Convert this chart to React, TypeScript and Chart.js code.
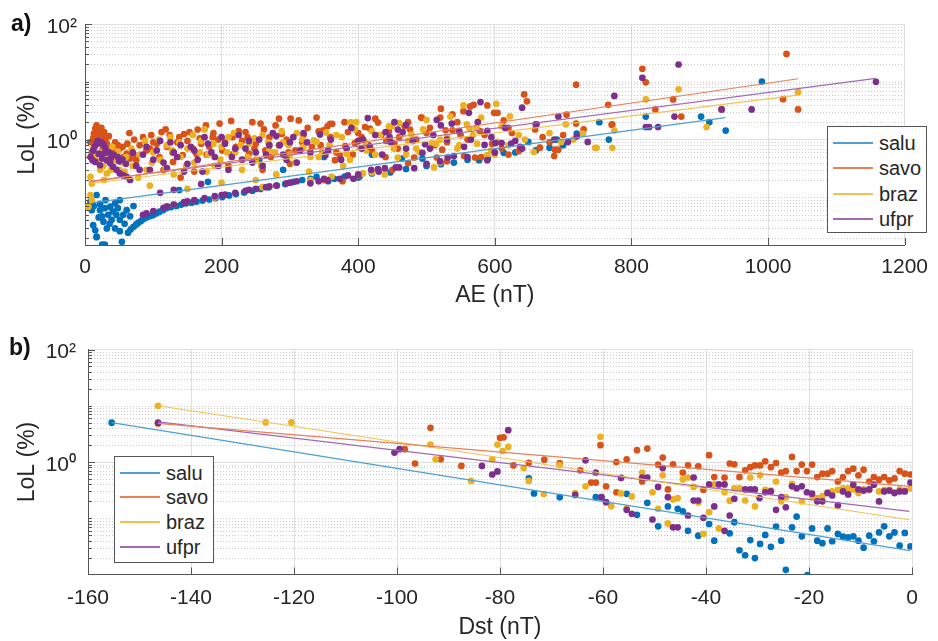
import React, { useEffect, useRef } from 'react';
import { Chart, registerables } from 'chart.js';
Chart.register(...registerables);

const FONT = "'Liberation Sans', Arial, Helvetica, sans-serif";
const seriesNames = ['salu', 'savo', 'braz', 'ufpr'];
const dotColors = ['#0072BD', '#D95319', '#EDB120', '#7E2F8E'];
const lineColors = ['#4d9fd6', '#e8805a', '#f1c252', '#a468b4'];

const aeTickValues = [0, 200, 400, 600, 800, 1000, 1200];
const dstTickValues = [-160, -140, -120, -100, -80, -60, -40, -20, 0];
const lolTickValues = [1, 100];
const lolTickLabels = ['10⁰', '10²'];

// ---------- panel a) : AE (nT) vs LoL (%) ----------
const saluAE: [number, number][] = [
  [12, 0.033], [15, 0.027], [17, 0.021], [13, 0.071], [22, 0.06], [29, 0.065], [37, 0.069], [41, 0.057], [46, 0.05], [34, 0.05],
  [25, 0.047], [39, 0.041], [51, 0.041], [44, 0.029], [32, 0.029], [51, 0.026], [25, 0.0152], [29, 0.0152], [54, 0.017], [56, 0.05],
  [61, 0.06], [66, 0.047], [71, 0.071], [44, 0.079], [51, 0.09], [17, 0.11], [22, 0.077], [17, 0.0205], [36, 0.035], [27, 0.038],
  [20, 0.045], [8, 0.085], [10, 0.06], [30, 0.09], [48, 0.065], [58, 0.035],
  [63, 0.0245], [67, 0.028], [71, 0.031], [75, 0.034], [78, 0.0365], [82, 0.039], [85, 0.042], [88, 0.044], [92, 0.046], [96, 0.048],
  [100, 0.0495], [105, 0.053], [109, 0.0565], [114, 0.06], [119, 0.065], [126, 0.068], [134, 0.071], [141, 0.075], [148, 0.079], [156, 0.081],
  [163, 0.084], [172, 0.088], [182, 0.092], [191, 0.097], [201, 0.102], [211, 0.108], [221, 0.114], [233, 0.122], [245, 0.13], [257, 0.14],
  [269, 0.149], [281, 0.16], [293, 0.17], [305, 0.185], [318, 0.2], [330, 0.21], [339, 0.226], [356, 0.19], [365, 0.21], [380, 0.23],
  [400, 0.22], [402, 0.23], [420, 0.26], [447, 0.27], [464, 0.47], [494, 0.47], [521, 0.375], [470, 0.31], [500, 0.35], [540, 0.4],
  [560, 0.45], [577, 0.44], [590, 0.48], [613, 0.59], [630, 0.6], [649, 0.91], [660, 0.65], [680, 0.72], [691, 1.0], [700, 0.8],
  [720, 1.27], [753, 2.0], [767, 1.0], [821, 2.5], [902, 2.5], [914, 2.0], [938, 1.43], [991, 10.1], [138, 0.134], [180, 0.186],
  [255, 0.44], [290, 0.3], [350, 0.5], [420, 0.55],
];
const savoAE: [number, number][] = [
  [17, 1.76], [20, 1.45], [13, 1.27], [22, 1.27], [27, 1.1], [17, 0.97], [32, 0.85], [39, 0.75], [41, 0.65], [46, 0.57],
  [51, 0.7], [56, 0.5], [61, 0.57], [66, 0.47], [71, 0.54], [75, 0.44], [37, 0.47], [34, 0.57], [15, 1.55], [24, 1.6],
  [12, 1.05], [28, 1.35], [8, 0.9], [19, 1.2], [30, 1.0], [44, 0.9], [35, 1.15], [48, 0.8], [55, 0.75], [62, 0.85],
  [10, 0.6], [26, 0.7],
  [97, 1.19], [112, 1.35], [124, 1.19], [138, 1.1], [153, 1.35], [165, 1.49], [177, 1.76], [197, 1.89], [214, 2.1], [187, 1.1],
  [245, 2.0], [257, 1.89], [279, 1.76], [301, 2.3], [313, 2.15], [284, 2.3], [235, 1.35], [216, 1.1],
  [90, 0.65], [109, 0.5], [129, 0.41], [143, 0.54], [163, 0.57], [182, 0.75], [201, 0.65], [221, 0.75], [240, 0.57], [264, 0.65],
  [284, 0.8], [308, 0.65], [332, 0.75], [80, 0.8], [100, 0.9], [120, 0.75], [150, 0.95], [170, 0.85], [195, 1.0], [230, 0.95],
  [250, 0.85], [270, 1.1], [295, 1.0], [320, 1.2], [115, 0.3], [160, 0.28], [210, 0.35], [260, 0.3], [300, 0.38], [140, 0.22],
  [65, 1.3], [72, 1.0], [85, 1.1], [95, 0.7], [105, 0.85], [118, 1.5], [128, 0.6], [135, 0.9], [145, 1.25], [158, 0.7],
  [168, 1.05], [178, 0.55], [188, 1.3], [205, 0.9], [215, 0.55], [225, 1.4], [238, 1.1], [248, 0.7], [262, 1.5], [272, 0.5],
  [288, 1.25], [298, 0.6], [318, 0.9], [326, 1.6],
  [339, 2.4], [359, 1.88], [362, 1.88], [380, 2.0], [410, 1.65], [417, 1.55], [429, 1.97], [473, 2.0], [493, 2.4], [476, 1.49],
  [441, 0.95], [453, 0.85], [434, 1.2], [395, 0.87], [381, 0.77], [366, 0.44], [373, 0.54], [342, 1.39], [349, 1.45], [359, 1.1],
  [440, 0.5], [482, 0.49], [523, 0.67], [515, 0.49], [473, 0.39], [377, 0.19], [555, 0.52], [571, 0.49], [596, 0.85], [578, 1.41],
  [528, 1.45], [538, 1.45], [550, 1.19], [520, 2.4], [492, 2.4], [538, 2.73], [554, 3.1], [599, 2.9], [604, 2.9], [613, 2.15],
  [521, 3.42], [564, 3.75], [569, 4.0], [589, 3.9], [643, 6.04], [647, 4.6], [635, 0.63], [666, 0.73], [659, 1.5], [670, 1.1],
  [400, 1.3], [460, 1.1], [500, 1.3], [620, 1.6], [420, 0.65],
  [345, 0.8], [355, 1.7], [368, 0.6], [385, 1.35], [392, 0.55], [405, 1.1], [415, 0.8], [425, 2.3], [445, 1.4], [458, 0.7],
  [468, 1.7], [485, 1.0], [505, 1.6], [512, 0.8], [530, 0.9], [545, 2.0], [560, 1.0], [585, 1.2], [610, 0.7], [625, 1.3],
  [350, 0.2], [400, 0.24], [450, 0.3], [530, 0.42], [580, 0.5], [620, 0.55],
  [719, 8.9], [1027, 30.4], [816, 16.8], [821, 9.8], [766, 4.0], [861, 4.95], [835, 3.3], [873, 2.5], [932, 3.33], [1022, 5.0],
  [705, 2.7], [719, 1.89], [772, 1.84], [771, 1.81], [666, 0.72], [688, 0.67], [693, 0.67], [687, 0.52], [1044, 3.33], [730, 1.5],
  [700, 1.2], [680, 0.9],
];
const brazAE: [number, number][] = [
  [8, 0.227], [10, 0.174], [8, 0.11], [10, 0.09], [5, 0.069], [22, 0.3], [27, 0.35], [32, 0.26], [15, 0.5], [25, 0.6],
  [35, 0.55], [45, 0.45], [12, 0.7], [40, 0.75], [55, 0.4], [60, 0.5], [50, 0.3], [20, 0.85],
  [70, 0.35], [80, 0.55], [90, 0.3], [100, 0.6], [110, 0.45], [120, 0.8], [130, 0.25], [140, 0.5], [150, 0.7], [160, 0.4],
  [170, 0.95], [180, 0.55], [190, 0.35], [200, 0.75], [210, 1.1], [220, 0.6], [230, 0.3], [240, 0.85], [250, 0.45], [260, 1.2],
  [270, 0.65], [280, 0.25], [290, 0.9], [300, 0.55], [310, 1.3], [320, 0.75], [330, 0.5], [95, 0.16], [150, 0.14], [200, 0.18],
  [250, 0.2], [175, 1.5], [125, 1.1],
  [18, 0.42], [28, 0.2], [38, 0.3], [48, 0.62], [58, 0.28], [68, 0.7], [78, 0.22], [88, 0.95], [98, 0.4], [108, 1.0],
  [118, 0.32], [128, 0.65], [138, 0.9], [148, 0.35], [158, 1.2], [168, 0.6], [178, 0.28], [188, 0.85], [198, 0.45], [208, 0.6],
  [218, 1.3], [228, 0.8], [238, 0.5], [248, 1.05], [258, 0.35], [268, 0.9], [278, 0.6], [288, 1.4], [298, 0.8], [308, 0.4],
  [318, 1.0], [328, 0.28],
  [335, 0.97], [339, 0.91], [347, 0.61], [353, 1.32], [361, 0.23], [376, 1.1], [383, 0.57], [388, 0.45], [389, 2.0], [397, 2.0],
  [402, 0.72], [407, 0.26], [412, 0.65], [439, 0.25], [445, 1.7], [449, 1.7], [458, 0.49], [460, 1.93], [473, 0.95], [477, 0.95],
  [478, 1.22], [485, 0.7], [508, 0.87], [511, 0.33], [514, 0.85], [554, 3.9], [559, 1.84], [563, 1.55], [573, 1.61], [574, 0.85],
  [589, 0.54], [602, 4.17], [604, 0.91], [622, 2.52], [644, 1.0], [657, 0.61], [530, 1.1], [545, 0.7], [420, 1.4], [470, 0.55],
  [500, 2.2], [620, 0.8],
  [342, 0.5], [358, 0.8], [368, 1.2], [378, 0.35], [395, 1.5], [410, 0.9], [425, 0.55], [432, 1.2], [452, 0.7], [465, 1.3],
  [490, 0.6], [495, 1.5], [520, 1.0], [535, 2.5], [548, 0.8], [568, 1.2], [580, 2.4], [595, 0.65], [610, 1.7], [635, 1.2],
  [130, 0.075], [190, 0.1], [260, 0.15], [330, 0.2], [420, 0.27], [520, 0.4], [600, 0.55],
  [704, 1.84], [697, 0.91], [715, 1.0], [729, 1.27], [747, 0.72], [749, 0.72], [772, 0.72], [775, 1.43], [821, 4.95], [869, 7.4],
  [910, 1.65], [1044, 6.6], [680, 1.3],
];
const ufprAE: [number, number][] = [
  [17, 0.85], [22, 0.87], [27, 0.83], [12, 0.65], [20, 0.57], [25, 0.47], [32, 0.44], [37, 0.39], [41, 0.34], [46, 0.3],
  [51, 0.26], [56, 0.24], [61, 0.227], [66, 0.2], [15, 0.41], [11, 0.44], [22, 0.36], [14, 0.75], [19, 0.95], [24, 0.9],
  [30, 0.7], [35, 0.6], [42, 0.55], [48, 0.5], [55, 0.45], [60, 0.38], [8, 0.5], [28, 0.58], [38, 0.48], [50, 0.42],
  [75, 0.35], [85, 0.55], [95, 0.3], [105, 0.65], [115, 0.4], [125, 0.9], [135, 0.5], [145, 0.28], [155, 0.75], [165, 0.45],
  [175, 1.1], [185, 0.6], [195, 0.35], [205, 0.85], [215, 0.5], [225, 1.2], [235, 0.7], [245, 0.4], [255, 1.0], [265, 0.55],
  [275, 1.3], [285, 0.8], [295, 0.45], [305, 1.1], [315, 0.65], [325, 0.9], [110, 0.12], [130, 0.135], [170, 0.17],
  [70, 0.6], [80, 0.3], [90, 0.75], [100, 0.45], [110, 0.95], [120, 0.32], [130, 0.6], [140, 0.8], [150, 0.38], [160, 0.65],
  [172, 0.28], [180, 0.85], [190, 0.5], [200, 1.1], [210, 0.3], [220, 0.7], [230, 0.45], [240, 0.95], [250, 0.6], [260, 0.35],
  [270, 0.8], [280, 1.15], [290, 0.55], [300, 0.9], [310, 0.4], [320, 1.3], [330, 0.6],
  [85, 0.05], [100, 0.058], [115, 0.066], [130, 0.075], [145, 0.083], [160, 0.09], [175, 0.097], [190, 0.105], [205, 0.112], [220, 0.12],
  [235, 0.13], [250, 0.14], [265, 0.15], [280, 0.16], [295, 0.175], [310, 0.19], [330, 0.175], [342, 0.19], [355, 0.2], [373, 0.21],
  [385, 0.24], [393, 0.21], [419, 0.3], [429, 0.31], [439, 0.32], [455, 0.33], [482, 0.32], [531, 0.49], [540, 0.52], [589, 0.44],
  [601, 0.87], [610, 0.87], [624, 0.85], [637, 0.75], [585, 0.81], [565, 1.0],
  [90, 0.053], [120, 0.07], [150, 0.085], [200, 0.11], [240, 0.135], [270, 0.155], [300, 0.18], [350, 0.21], [400, 0.25], [430, 0.28],
  [460, 0.33], [500, 0.38], [520, 0.42], [560, 0.5], [600, 0.6], [640, 0.7],
  [344, 1.22], [352, 0.54], [356, 0.65], [383, 0.7], [400, 0.95], [407, 1.0], [414, 2.36], [417, 0.75], [440, 1.35], [446, 1.1],
  [453, 2.0], [458, 1.49], [465, 1.35], [494, 0.59], [498, 0.83], [521, 1.76], [537, 1.89], [562, 2.9], [579, 4.45], [589, 1.41],
  [640, 3.56], [660, 1.84], [687, 1.0], [661, 1.84], [693, 2.5], [707, 0.91], [720, 1.14], [736, 0.91], [775, 5.7], [470, 0.7],
  [510, 1.2],
  [360, 1.0], [375, 0.45], [390, 1.6], [405, 0.7], [425, 1.2], [435, 0.55], [448, 0.9], [470, 1.8], [480, 0.95], [505, 0.7],
  [515, 2.2], [530, 1.0], [548, 1.4], [555, 0.75], [575, 2.0], [595, 1.1], [615, 1.6], [630, 0.95],
  [816, 11.7], [869, 19.9], [863, 2.5], [821, 1.65], [826, 1.65], [839, 1.65], [932, 3.33], [976, 3.33], [1158, 10],
];
const saluAEFit: [number, number][] = [[12, 0.081], [937.5, 2.39]];
const savoAEFit: [number, number][] = [[8, 0.186], [1044, 11.3]];
const brazAEFit: [number, number][] = [[8, 0.174], [1043, 5.87]];
const ufprAEFit: [number, number][] = [[8, 0.19], [1158, 11.5]];

// ---------- panel b) : Dst (nT) vs LoL (%) ----------
const saluDst: [number, number][] = [
  [-155.4, 5.0], [-74.4, 0.51], [-73.4, 0.276], [-68.4, 0.237], [-61.4, 0.237], [-60.3, 0.237], [-55.4, 0.272], [-53.4, 0.115],
  [-51.4, 0.188], [-49.3, 0.072], [-47.4, 0.162], [-45.5, 0.147], [-44.5, 0.133], [-43.5, 0.06], [-41.5, 0.049], [-39.4, 0.079],
  [-38.4, 0.04], [-35.4, 0.054], [-34.5, 0.085], [-33.5, 0.027], [-32.4, 0.022], [-31.4, 0.041], [-30.5, 0.0196], [-29.5, 0.035],
  [-28.5, 0.0505], [-27.4, 0.031], [-26.4, 0.071], [-25.4, 0.04], [-24.5, 0.0121], [-23.3, 0.069], [-22.4, 0.107], [-21.4, 0.0477],
  [-20.3, 0.0098], [-19.4, 0.066], [-18.4, 0.04], [-17.4, 0.036], [-16.4, 0.066], [-15.5, 0.039], [-14.4, 0.0526], [-13.4, 0.047],
  [-12.4, 0.0458], [-11.4, 0.0477], [-10.4, 0.04], [-9.4, 0.03], [-8.3, 0.049], [-7.4, 0.039], [-6.4, 0.056], [-5.4, 0.072],
  [-4.4, 0.0477], [-3.4, 0.056], [-2.4, 0.0326], [-1.4, 0.0548], [-0.3, 0.0316],
];
const savoDst: [number, number][] = [
  [-146.4, 4.85], [-98.5, 1.69], [-96.5, 0.94], [-93.5, 4.05], [-91.5, 1.12], [-87.5, 0.85], [-80.0, 2.7], [-79.3, 2.75],
  [-77.4, 0.87], [-74.4, 0.97], [-71.4, 1.1], [-68.4, 0.96], [-64.4, 0.71], [-62.3, 0.43], [-61.4, 0.43], [-60.5, 1.99],
  [-59.4, 0.37], [-57.4, 0.29], [-57.4, 1.0], [-55.4, 1.12], [-53.4, 1.62], [-51.4, 1.73], [-52.4, 0.45], [-49.3, 0.9],
  [-48.4, 1.2], [-47.4, 0.325], [-46.4, 0.91], [-44.5, 0.65], [-43.5, 0.87], [-41.5, 0.84], [-40.5, 0.32], [-39.4, 1.32],
  [-38.4, 0.54], [-36.4, 0.53], [-35.4, 0.94], [-34.5, 0.91], [-33.5, 0.54], [-32.4, 0.71], [-31.4, 0.81], [-30.5, 0.87],
  [-29.5, 0.87], [-28.5, 1.03], [-27.4, 0.81], [-26.4, 0.96], [-25.4, 0.65], [-24.5, 0.69], [-23.3, 1.23], [-22.4, 0.69],
  [-21.4, 0.9], [-20.4, 0.69], [-19.4, 0.9], [-18.4, 0.54], [-17.4, 0.62], [-16.4, 0.62], [-15.5, 0.69], [-14.4, 0.45],
  [-13.4, 0.54], [-12.4, 0.69], [-11.4, 0.76], [-10.4, 0.58], [-9.4, 0.73], [-8.3, 0.45], [-7.4, 0.54], [-6.4, 0.485],
  [-5.4, 0.54], [-4.4, 0.47], [-3.4, 0.51], [-2.4, 0.69], [-1.4, 0.62], [-0.3, 0.6],
];
const brazDst: [number, number][] = [
  [-146.4, 10.0], [-125.5, 5.05], [-120.5, 5.05], [-93.5, 2.04], [-92.5, 1.12], [-85.6, 0.46], [-81.5, 1.12], [-80.5, 2.04],
  [-79.5, 1.57], [-78.4, 1.85], [-75.4, 0.78], [-74.4, 0.46], [-71.5, 0.27], [-68.4, 0.88], [-65.4, 0.28], [-63.4, 0.37],
  [-60.5, 2.8], [-58.4, 0.164], [-56.5, 0.276], [-54.4, 0.244], [-55.4, 0.15], [-52.4, 0.65], [-50.4, 0.29], [-49.3, 0.147],
  [-48.4, 0.58], [-47.4, 0.081], [-46.4, 0.216], [-45.5, 0.228], [-44.5, 0.49], [-43.5, 0.53], [-42.4, 0.36], [-41.5, 0.19],
  [-40.5, 0.053], [-39.4, 0.128], [-38.4, 0.4], [-37.5, 0.066], [-36.4, 0.29], [-35.4, 0.205], [-34.5, 0.34], [-33.5, 0.34],
  [-32.4, 0.207], [-31.4, 0.53], [-30.5, 0.162], [-29.5, 0.58], [-28.5, 0.32], [-27.4, 0.31], [-26.4, 0.45], [-25.4, 0.2],
  [-24.5, 0.237], [-23.3, 0.41], [-21.4, 0.2], [-19.4, 0.245], [-18.4, 0.228], [-17.4, 0.247], [-16.4, 0.29], [-15.5, 0.3],
  [-14.4, 0.32], [-13.4, 0.34], [-12.4, 0.34], [-11.4, 0.325], [-10.4, 0.28], [-9.4, 0.325], [-8.3, 0.32], [-6.4, 0.3],
  [-5.4, 0.32], [-4.4, 0.32], [-3.4, 0.29], [-2.4, 0.325], [-1.4, 0.31], [-0.3, 0.34],
];
const ufprDst: [number, number][] = [
  [-146.4, 5.0], [-100.5, 1.47], [-99.5, 1.69], [-83.5, 0.85], [-81.5, 0.6], [-80.5, 0.68], [-78.4, 3.68], [-65.4, 0.26],
  [-63.4, 1.07], [-61.4, 0.65], [-60.3, 0.237], [-59.4, 0.193], [-56.5, 0.52], [-55.4, 0.141], [-54.4, 0.12], [-52.4, 0.53],
  [-51.4, 0.53], [-50.4, 0.095], [-49.3, 0.36], [-48.4, 0.78], [-47.4, 0.237], [-46.4, 0.069], [-45.5, 0.069], [-43.5, 0.112],
  [-42.4, 0.53], [-42.4, 0.207], [-41.5, 0.207], [-40.5, 0.102], [-39.4, 0.4], [-38.4, 0.162], [-37.5, 0.4], [-36.4, 0.4],
  [-36.4, 0.06], [-35.4, 0.112], [-34.5, 0.222], [-32.4, 0.325], [-31.4, 0.325], [-30.5, 0.325], [-29.6, 0.228], [-28.5, 0.29],
  [-27.4, 0.3], [-26.4, 0.141], [-25.4, 0.237], [-24.5, 0.157], [-23.3, 0.37], [-22.4, 0.34], [-21.4, 0.37], [-20.4, 0.29],
  [-19.4, 0.273], [-18.4, 0.2], [-17.4, 0.2], [-16.4, 0.28], [-15.5, 0.254], [-14.4, 0.169], [-13.4, 0.3], [-12.4, 0.265],
  [-11.4, 0.395], [-10.4, 0.325], [-9.4, 0.31], [-8.3, 0.325], [-7.4, 0.395], [-6.4, 0.199], [-5.4, 0.3], [-4.4, 0.31],
  [-3.4, 0.28], [-2.4, 0.3], [-1.4, 0.3], [-0.3, 0.43],
];
const saluDstFit: [number, number][] = [[-155.4, 5.0], [-0.4, 0.0265]];
const savoDstFit: [number, number][] = [[-146.4, 4.85], [-0.5, 0.37]];
const brazDstFit: [number, number][] = [[-146.4, 10.0], [-0.5, 0.094]];
const ufprDstFit: [number, number][] = [[-146.4, 5.18], [-0.5, 0.133]];

type Panel = {
  xMin: number; xMax: number; xTicks: number[]; yMin: number; yMax: number; xTitle: string;
  points: [number, number][][]; fits: [number, number][][];
  padTop: number; padRight: number; yWidth: number; xHeight: number;
  yTickPad: number; xTickPad: number; xTitlePadBottom: number; yTitlePadTop: number;
};

function minorValues(min: number, max: number): number[] {
  const out: number[] = [];
  for (let k = Math.floor(Math.log10(min)) - 1; k <= Math.ceil(Math.log10(max)); k++) {
    for (let m = 1; m <= 9; m++) {
      const v = m * Math.pow(10, k);
      if (v <= min * 1.0001 || v >= max * 0.9999) continue;
      if (lolTickValues.some((t) => Math.abs(t - v) < 1e-9)) continue;
      out.push(v);
    }
  }
  return out;
}

const matlabDecor = {
  id: 'matlabDecor',
  beforeDatasetsDraw(chart: any) {
    const { ctx, chartArea: a } = chart;
    const y = chart.scales.y;
    ctx.save();
    ctx.strokeStyle = '#cacaca';
    ctx.lineWidth = 1;
    ctx.setLineDash([1, 2]);
    for (const v of minorValues(y.min, y.max)) {
      const py = Math.round(y.getPixelForValue(v)) + 0.5;
      ctx.beginPath();
      ctx.moveTo(a.left, py);
      ctx.lineTo(a.right, py);
      ctx.stroke();
    }
    ctx.restore();
  },
  afterDatasetsDraw(chart: any) {
    const { ctx, chartArea: a } = chart;
    const y = chart.scales.y;
    const x = chart.scales.x;
    ctx.save();
    ctx.strokeStyle = '#555555';
    ctx.lineWidth = 1;
    ctx.setLineDash([]);
    for (const v of minorValues(y.min, y.max)) {
      const py = Math.round(y.getPixelForValue(v)) + 0.5;
      ctx.beginPath(); ctx.moveTo(a.left, py); ctx.lineTo(a.left + 4, py); ctx.stroke();
    }
    for (const v of lolTickValues) {
      if (v <= y.min || v > y.max) continue;
      const py = Math.round(y.getPixelForValue(v)) + 0.5;
      ctx.beginPath(); ctx.moveTo(a.left, py); ctx.lineTo(a.left + 7, py); ctx.stroke();
    }
    for (const t of x.ticks) {
      const px = Math.round(x.getPixelForValue(t.value)) + 0.5;
      ctx.beginPath(); ctx.moveTo(px, a.bottom); ctx.lineTo(px, a.bottom - 7); ctx.stroke();
    }
    ctx.restore();
  },
};

function buildConfig(p: Panel): any {
  const datasets: any[] = [];
  p.fits.forEach((f, i) => {
    datasets.push({
      type: 'scatter', label: seriesNames[i], data: f.map(([x, y]) => ({ x, y })),
      showLine: true, borderColor: lineColors[i], borderWidth: 1.2, pointRadius: 0, fill: false, order: 0,
    });
  });
  p.points.forEach((pts, i) => {
    datasets.push({
      type: 'scatter', label: seriesNames[i] + ' data', data: pts.map(([x, y]) => ({ x, y })),
      backgroundColor: dotColors[i], borderWidth: 0, pointRadius: 3.35, order: 4 - i,
    });
  });
  const tickFont = { family: FONT, size: 21 };
  const titleFont = { family: FONT, size: 23 };
  return {
    type: 'scatter',
    data: { datasets },
    plugins: [matlabDecor],
    options: {
      animation: false,
      responsive: false,
      devicePixelRatio: 1,
      events: [],
      layout: { padding: { top: p.padTop, right: p.padRight, left: 0, bottom: 0 } },
      plugins: { legend: { display: false }, tooltip: { enabled: false } },
      scales: {
        x: {
          type: 'linear', min: p.xMin, max: p.xMax,
          afterBuildTicks: (s: any) => { s.ticks = p.xTicks.map((v) => ({ value: v })); },
          afterFit: (s: any) => { s.height = p.xHeight; },
          grid: { color: '#e0e0e0', drawTicks: false, lineWidth: 1 },
          border: { display: true, color: '#555555', width: 1 },
          ticks: {
            padding: p.xTickPad, font: tickFont, color: '#262626', maxRotation: 0, autoSkip: false,
            callback: (v: any) => String(v),
          },
          title: { display: true, text: p.xTitle, font: titleFont, color: '#262626', padding: { top: 0, bottom: p.xTitlePadBottom } },
        },
        y: {
          type: 'logarithmic', min: p.yMin, max: p.yMax,
          afterBuildTicks: (s: any) => { s.ticks = lolTickValues.map((v) => ({ value: v })); },
          afterFit: (s: any) => { s.width = p.yWidth; },
          grid: { color: '#e0e0e0', drawTicks: false, lineWidth: 1 },
          border: { display: true, color: '#555555', width: 1 },
          ticks: {
            padding: p.yTickPad, labelOffset: 3, font: tickFont, color: '#262626', autoSkip: false,
            callback: (v: any) => { const i = lolTickValues.indexOf(Number(v)); return i >= 0 ? lolTickLabels[i] : ''; },
          },
          title: { display: true, text: 'LoL (%)', font: titleFont, color: '#262626', padding: { top: p.yTitlePadTop, bottom: 0 } },
        },
      },
    },
  };
}

const panelA: Panel = {
  xMin: 0, xMax: 1200, xTicks: aeTickValues, yMin: 0.015, yMax: 100, xTitle: 'AE (nT)',
  points: [saluAE, savoAE, brazAE, ufprAE], fits: [saluAEFit, savoAEFit, brazAEFit, ufprAEFit],
  padTop: 24, padRight: 27, yWidth: 85, xHeight: 75, yTickPad: 8, xTickPad: 10, xTitlePadBottom: 11, yTitlePadTop: 14,
};
const panelB: Panel = {
  xMin: -160, xMax: 0, xTicks: dstTickValues, yMin: 0.01, yMax: 100, xTitle: 'Dst (nT)',
  points: [saluDst, savoDst, brazDst, ufprDst], fits: [saluDstFit, savoDstFit, brazDstFit, ufprDstFit],
  padTop: 29.5, padRight: 26, yWidth: 88, xHeight: 66.5, yTickPad: 12, xTickPad: 11, xTitlePadBottom: 0, yTitlePadTop: 14,
};

function ChartCanvas({ panel, top, height }: { panel: Panel; top: number; height: number }) {
  const ref = useRef<HTMLCanvasElement>(null);
  useEffect(() => {
    if (!ref.current) return;
    const chart = new Chart(ref.current, buildConfig(panel));
    return () => chart.destroy();
  }, []);
  return (
    <canvas ref={ref} width={938} height={height}
      style={{ position: 'absolute', left: 0, top, width: 938, height, display: 'block' }} />
  );
}

function LegendBox({ left, top, rowTop, rowGap }: { left: number; top: number; rowTop: number; rowGap: number }) {
  return (
    <div style={{ position: 'absolute', left, top, width: 100, height: 107, border: '1px solid #555', background: '#fff', boxSizing: 'border-box' }}>
      {seriesNames.map((n, i) => (
        <div key={n} style={{ position: 'absolute', left: 0, top: rowTop + i * rowGap - 12, height: 24, display: 'flex', alignItems: 'center' }}>
          <div style={{ marginLeft: 5, width: 40, height: 2, background: lineColors[i] }} />
          <span style={{ marginLeft: 6, font: `20px ${FONT}`, color: '#262626', lineHeight: '24px' }}>{n}</span>
        </div>
      ))}
    </div>
  );
}

export default function App() {
  return (
    <div style={{ position: 'absolute', left: 0, top: 0, width: 938, height: 641, background: '#fff', overflow: 'hidden' }}>
      <ChartCanvas panel={panelA} top={0} height={320} />
      <ChartCanvas panel={panelB} top={320} height={321} />
      <div style={{ position: 'absolute', left: 11, top: 12, font: `bold 23px ${FONT}`, lineHeight: '23px', color: '#111' }}>a)</div>
      <div style={{ position: 'absolute', left: 9, top: 336, font: `bold 23px ${FONT}`, lineHeight: '23px', color: '#111' }}>b)</div>
      <LegendBox left={827} top={126} rowTop={16} rowGap={25.3} />
      <LegendBox left={114} top={456} rowTop={15.5} rowGap={24.7} />
    </div>
  );
}
